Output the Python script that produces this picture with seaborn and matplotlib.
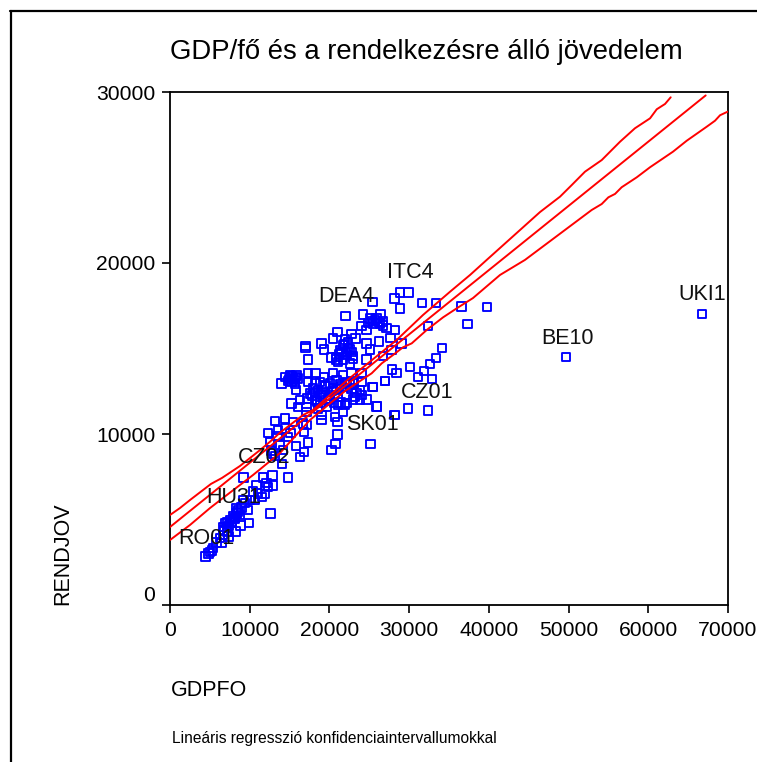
import matplotlib
matplotlib.use("Agg")
import matplotlib.pyplot as plt
import seaborn as sns
import pandas as pd
from matplotlib.lines import Line2D

# values
gdpfo = [66700, 49660, 39750, 37330, 36580, 33360, 31600, 32350, 29930, 28850, 28180, 28850, 25420,
         34110, 33360, 32600, 31890, 31140, 32850, 30140, 27880, 28430, 26960, 25420, 25960, 29890,
         32360, 28180, 25170, 21030, 20780, 20270,
         22030, 24240, 26420, 25080, 25920, 25500, 26330, 24660, 24040, 27170, 28220, 26750, 21030,
         22780, 20480, 23280, 21950, 17010, 17010, 19020, 19310, 24660, 26210, 27670, 29050, 25080,
         21740, 22360, 21320, 22780, 22150, 20900, 20270, 22990, 21740, 22570, 24660, 17350, 21110,
         26750, 27800,
         17350, 18270, 14420, 15050, 15880, 15470, 16090, 15260, 14000, 15680, 15800, 17350, 18180,
         18810, 20480, 21740, 22780, 24040, 20900, 22150, 20060, 19440, 17970, 18600, 17560, 19230,
         20480, 21530, 22780, 24040, 23830, 25500, 26960, 17260, 16300, 15260, 16090, 17140, 18180,
         18810, 20060, 21110, 22150, 23200, 23830, 24660, 22990, 24040, 25920, 28220, 17140, 19020,
         19020, 20690, 21030, 21740, 21950, 21110, 19650, 18600,
         14420, 13170, 15470, 16720, 17140, 13590, 12330, 14420, 16850, 14840, 12540, 17350, 15800,
         16850, 16300, 13790, 12960, 14210,
         14090, 9200, 14840, 12870, 11700, 10870, 12960, 12120, 12330, 11500, 11910, 10450, 10030,
         12620, 9820, 9910, 8860, 8230, 7320, 6480, 5430, 5020, 4470, 4810, 5230, 5850, 6690, 6690,
         7110, 7520, 7940, 8360, 8570, 8990, 9400, 7730, 7110, 8150, 8780, 10660, 11080, 6900, 8360,
         6270, 9200,
         15300, 15600, 15000, 15800, 14800, 25700, 26100, 25300, 26700, 24800, 21500, 22100, 22500,
         21200, 22900, 21800, 22300, 20800, 19500, 20300, 19000, 18200, 21300, 22600, 23400, 20000,
         18900, 19800, 20600, 21400, 22200, 18400, 17800, 23000, 19300, 20900, 7400, 7800, 8100,
         8500, 6800, 7200, 13500, 12700, 13200, 15100]
rendjov = [17020, 14500, 17430, 16430, 17450, 17680, 17680, 16320, 18270, 18270, 17930, 17330, 17700,
           15030, 14450, 14110, 13680, 13330, 13220, 13900, 13780, 13550, 13100, 12750, 11600, 11490,
           11370, 11130, 9400, 9980, 9420, 9060,
           16900, 16990, 16990, 16760, 16760, 16470, 16470, 16080, 16330, 16180, 16080, 16570, 15980,
           15850, 15590, 15590, 15530, 15140, 15010, 15300, 14950, 15300, 15400, 15630, 15300, 14950,
           15200, 15010, 14910, 14810, 14620, 14520, 14480, 14420, 14330, 14130, 14360, 14360, 14230,
           14560, 14910,
           13550, 13550, 13350, 13450, 13450, 13250, 13250, 13060, 12960, 12960, 12570, 13060, 12960,
           13060, 13550, 13450, 13550, 13550, 13150, 13060, 12960, 12770, 12670, 12570, 12375, 12470,
           12670, 12770, 12670, 13060, 12570, 12730, 13090, 12080, 11980, 11790, 11590, 11590, 11980,
           12180, 12080, 12180, 12280, 12180, 12020, 12020, 12020, 12280, 11600, 11130, 11300, 11110,
           10815, 11010, 10720, 11300, 11690, 11690, 11590, 11500,
           10910, 10775, 10720, 10620, 10520, 10230, 10075, 10330, 10130, 9840, 9550, 9510, 9290,
           8960, 8670, 9350, 8860, 9060,
           8230, 7450, 7450, 7565, 7450, 7020, 6980, 7120, 6920, 6300, 6490, 6630, 6140,
           5360, 5560, 4780, 4640, 4290, 4000, 3610, 3320, 3080, 2830, 3020, 3180, 3650, 4100, 4580,
           4870, 4970, 5170, 5360, 5560, 5710, 5950, 4780, 4490, 5070, 5265, 6140, 6530, 4780, 5650,
           3900, 6140,
           13400, 13150, 13200, 13350, 13100, 16650, 16550, 16600, 16350, 16500, 14800, 14700, 14950,
           14650, 14550, 15250, 15350, 14350, 12850, 12500, 12300, 12400, 12900, 12900, 12400, 12250,
           11850, 11950, 11800, 11850, 11800, 11900, 12250, 12950, 13350, 12600, 4650, 4850, 5050,
           5450, 4350, 4250, 9900, 9000, 8700, 10050]

fit_x = [0, 67200]
fit_y = [4560, 29800]
upper_x = [0, 1250, 2510, 5140, 6520, 8780, 11290, 12550, 13800, 16690, 17940, 20070, 22580, 28440,
           31740, 35130, 37640, 39730, 46420, 48930, 50400, 52060, 54160, 56450, 58330, 60220, 61060,
           62100, 62810]
upper_y = [5263, 5670, 6140, 7080, 7430, 8130, 9060, 9550, 10080, 11110, 11400, 12280, 13280, 15500,
           16960, 18320, 19300, 20180, 22980, 23880, 24560, 25340, 26020, 27090, 27880, 28460, 28990,
           29300, 29690]
lower_x = [0, 2510, 5020, 6650, 10410, 13800, 17560, 21950, 25300, 26560, 27980, 29230, 30320, 32200,
           34250, 35970, 38010, 41400, 44530, 52900, 54160, 54990, 55830, 56660, 58550, 60220, 63100,
           64820, 67330, 68370, 69000, 69960]
lower_y = [3800, 4680, 5670, 6260, 7600, 8890, 10820, 12510, 13550, 14130, 14620, 15070, 15300, 16080,
           16820, 17350, 17950, 19300, 20180, 23100, 23450, 23840, 24040, 24430, 25010, 25600, 26510,
           27150, 27970, 28320, 28640, 28850]

label_names = ["ITC4", "DEA4", "UKI1", "BE10", "CZ01", "SK01", "CZ02", "HU31", "RO01"]
label_x = [27220, 18570, 63730, 46540, 28980, 22080, 8490, 4600, 1050]
label_y = [19120, 17740, 17840, 15260, 12120, 10230, 8320, 5950, 3570]

xticks = [0, 10000, 20000, 30000, 40000, 50000, 60000, 70000]
yticks = [0, 10000, 20000, 30000]

W, H = 757, 762
sns.set_style("white")
plt.rcParams['font.family'] = ['Liberation Sans', 'DejaVu Sans']
plt.rcParams['text.color'] = 'black'
plt.rcParams['xtick.labelcolor'] = 'black'
plt.rcParams['ytick.labelcolor'] = 'black'

fig = plt.figure(figsize=(W / 100, H / 100), dpi=100)
ax = fig.add_axes([170 / W, 1 - 605 / H, 558 / W, 513 / H])

df = pd.DataFrame({"GDPFO": gdpfo, "RENDJOV": rendjov})
sns.scatterplot(x="GDPFO", y="RENDJOV", data=df, ax=ax, marker="s", s=36, facecolor="none",
                edgecolor="#0000ff", linewidth=1.35, zorder=2)

for lx, ly in [(fit_x, fit_y), (upper_x, upper_y), (lower_x, lower_y)]:
    sns.lineplot(x=lx, y=ly, ax=ax, color="#ff0000", linewidth=1.4, sort=False, estimator=None, zorder=3)

for name, x, y in zip(label_names, label_x, label_y):
    ax.text(x, y, name, fontsize=15.5, color="#111111", ha="left", va="baseline", zorder=4)

ax.set_xlim(0, 70000)
ax.set_ylim(0, 30000)
ax.set_xticks(xticks)
ax.set_yticks(yticks)
ax.set_xlabel("")
ax.set_ylabel("")
ax.tick_params(axis="both", which="major", length=5.5, width=1.2, color="black", labelsize=15.2,
               left=True, bottom=True)
ax.tick_params(axis="x", pad=6)
ax.tick_params(axis="y", pad=5)
for s in ax.spines.values():
    s.set_visible(True)
    s.set_color("black")
    s.set_linewidth(1.3)
ax.grid(False)

# the 0 label on the y axis sits higher than its tick
ax.get_yticklabels()[0].set_verticalalignment("bottom")

fig.text(426 / W, 1 - 52 / H, "GDP/fő és a rendelkezésre álló jövedelem", fontsize=19.8, ha="center", va="center")
fig.text(171 / W, 1 - 691 / H, "GDPFO", fontsize=15.5, ha="left", va="center")
fig.text(63 / W, 1 - 605 / H, "RENDJOV", fontsize=15.5, rotation=90, ha="center", va="bottom")
fig.text(172 / W, 1 - 738 / H, "Lineáris regresszió konfidenciaintervallumokkal", fontsize=11.2, ha="left", va="center")

# outer frame, cut off by the image edge
fig.add_artist(Line2D([10.5 / W, 10.5 / W], [0, 1 - 11 / H], color="black", linewidth=1.6))
fig.add_artist(Line2D([10 / W, 1], [1 - 11 / H, 1 - 11 / H], color="black", linewidth=1.6))

fig.savefig("out.png", dpi=100)
